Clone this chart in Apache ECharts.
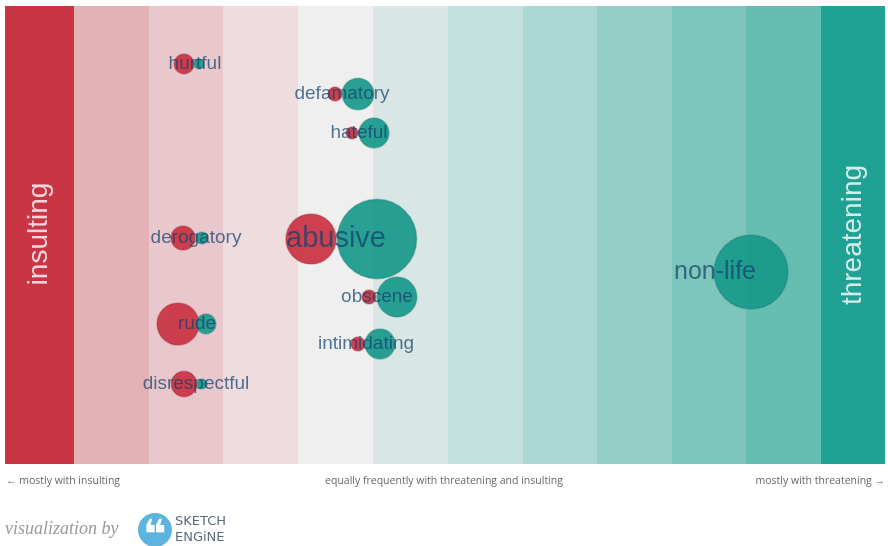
<!DOCTYPE html>
<html>
<head>
<meta charset="utf-8">
<script src="https://cdn.jsdelivr.net/npm/echarts@6/dist/echarts.min.js"></script>
<style>html,body{margin:0;padding:0;background:#fff;}#c{width:888px;height:546px;}</style>
</head>
<body>
<div id="c"></div>
<script>
// ---- data (x positions in plot units 0..880, y in plot units 0..458 from top) ----
var words        = ['hurtful','defamatory','hateful','derogatory','abusive','obscene','rude','intimidating','disrespectful','non-life'];
var labelX       = [190, 337, 354, 191, 331, 372, 192, 361, 191, 710];
var rowY         = [58, 88, 127, 232, 233, 291, 318, 338, 378, 266];
var insultX      = [179, 330, 347, 178, 306, 364, 173, 353, 179, null];
var threatX      = [194, 353, 369, 197, 372, 392, 201, 375, 197, 746];
var insultFreq   = [11, 5.4, 4, 16, 70, 5.4, 49, 5.4, 18, 0];
var threatFreq   = [2.8, 28, 25, 4, 175, 44, 11, 25, 2.8, 152];
var bandEdges    = [0, 69, 144, 218, 293, 368, 443, 518, 592, 667, 741, 816, 880];
var bandColors   = ['#c93545','#e4b1b6','#e8c8cc','#eedcde','#efefef','#d8e7e5','#c2e0dc','#abd8d2','#94cfc7','#7ec6bc','#66bdb2','#1fa193'];
var leftLabel = 'insulting', rightLabel = 'threatening';
var footLeft = '\u2190 mostly with insulting';
var footMid = 'equally frequently with threatening and insulting';
var footRight = 'mostly with threatening \u2192';

function radius(f){ return 3 * Math.sqrt(f); }

var insultData = [], threatData = [], labelData = [];
words.forEach(function(w, i){
  if (insultX[i] !== null && insultFreq[i] > 0) insultData.push([insultX[i], rowY[i], insultFreq[i]]);
  threatData.push([threatX[i], rowY[i], threatFreq[i]]);
  labelData.push({value:[labelX[i], rowY[i]], name:w, total: insultFreq[i] + threatFreq[i]});
});

var bands = bandColors.map(function(c, i){
  return [{xAxis: bandEdges[i], itemStyle:{color:c}}, {xAxis: bandEdges[i+1]}];
});

var chart = echarts.init(document.getElementById('c'));
chart.setOption({
  animation:false,
  grid:{left:5, top:6, width:880, height:458},
  xAxis:{type:'value', min:0, max:880, show:false},
  yAxis:{type:'value', min:0, max:458, inverse:true, show:false},
  series:[
    {
      type:'scatter', data:[], silent:true,
      markArea:{silent:true, data:bands, itemStyle:{opacity:1}, label:{show:false}}
    },
    {
      type:'scatter', symbolSize:0, silent:true, z:3,
      data:[{value:[34, 228], name:leftLabel}, {value:[848, 229], name:rightLabel}],
      label:{show:true, position:'inside', rotate:90, formatter:'{b}', color:'#ffffff',
        fontSize:28, fontFamily:'Liberation Sans, Arial, sans-serif'}
    },
    {
      type:'scatter', z:4, data:insultData,
      symbolSize:function(v){ return 2*radius(v[2]); },
      itemStyle:{color:'#ca3646', opacity:0.95, borderColor:'rgba(150,30,45,0.35)', borderWidth:1.5}
    },
    {
      type:'scatter', z:5, data:threatData,
      symbolSize:function(v){ return 2*radius(v[2]); },
      itemStyle:{color:'#17998b', opacity:0.92, borderColor:'rgba(15,110,100,0.35)', borderWidth:1.5}
    },
    {
      type:'scatter', z:6, symbolSize:0, data:labelData.map(function(d){
        return {value:d.value, name:d.name, label:{fontSize: Math.max(19, Math.round(10 + 1.2*Math.sqrt(d.total)))}};
      }),
      label:{show:true, position:'inside', formatter:'{b}', color:'rgba(20,64,108,0.9)',
        fontFamily:'Liberation Sans, Arial, sans-serif', fontSize:19}
    }
  ],
  graphic:[
    {type:'text', left:6, top:476, style:{text:footLeft, fill:'#666', font:'10.5px "Open Sans", sans-serif'}},
    {type:'text', left:'center', top:476, style:{text:footMid, fill:'#666', font:'10.5px "Open Sans", sans-serif'}},
    {type:'text', right:3, top:476, style:{text:footRight, fill:'#666', font:'10.5px "Open Sans", sans-serif'}},
    {type:'text', left:5, top:520, style:{text:'visualization by', fill:'#9a9a9a', font:'italic 18px "Liberation Serif", "Times New Roman", serif'}},
    {type:'circle', shape:{cx:155, cy:530, r:17}, style:{fill:'#5db5df'}},
    {type:'text', x:155, y:538, style:{text:'\u275D', fill:'#ffffff', font:'bold 40px "DejaVu Sans", sans-serif', textAlign:'center', textVerticalAlign:'middle'}},
    {type:'text', left:175, top:514, style:{text:'SKETCH\nENGiNE', fill:'#5a6c80', font:'13px "DejaVu Sans", sans-serif', lineHeight:16}}
  ]
});
</script>
</body>
</html>
